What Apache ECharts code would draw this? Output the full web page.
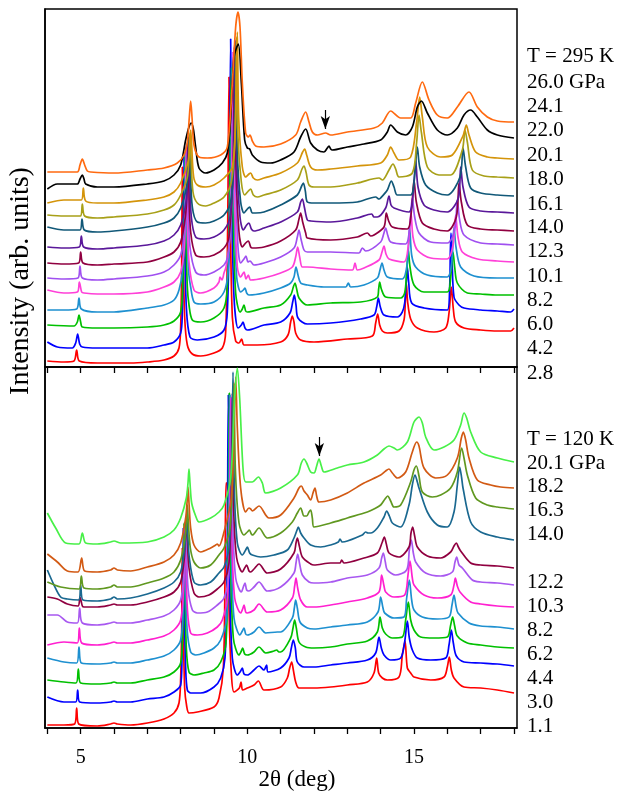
<!DOCTYPE html>
<html>
<head>
<meta charset="utf-8">
<script src="https://cdn.jsdelivr.net/npm/echarts@6/dist/echarts.min.js"></script>
<style>html,body{margin:0;padding:0;background:#fff;}#chart{width:617px;height:791px;}</style>
</head>
<body>
<div id="chart"></div>
<script>
// ---------- DATA (2θ in deg, intensity in arb. units) ----------
// Upper panel, T = 295 K
const top_2_8 = [[4.0,6],[4.5,5],[4.8,6],[4.88,17],[4.96,6],[5.5,4],[6.0,4],[6.5,4],[7.0,5],[7.5,7],[7.8,11],[7.95,19],[8.0,40],[8.03,100],[8.05,200],[8.08,110],[8.12,50],[8.2,22],[8.35,13],[8.6,11],[9.0,14],[9.25,19],[9.35,35],[9.41,140],[9.45,290],[9.49,150],[9.55,50],[9.65,26],[9.75,24],[9.83,28],[9.9,22],[10.3,22],[11.0,25],[11.22,32],[11.3,45],[11.35,51],[11.4,45],[11.45,34],[11.6,27],[12.0,25],[13.0,28],[13.75,31],[13.85,44],[13.91,53],[13.97,42],[14.05,36],[14.2,34],[14.55,36],[14.7,47],[14.74,65],[14.77,84],[14.81,65],[14.9,48],[15.1,39],[15.6,35],[15.95,39],[16.05,54],[16.12,80],[16.18,58],[16.25,45],[16.5,39],[17.0,37],[17.5,36],[17.9,36],[18.0,39]];
const top_4_2 = [[4.0,25],[4.3,20],[4.75,19],[4.85,24],[4.91,33],[4.97,23],[5.05,20],[5.5,19],[6.0,19],[7.0,19],[7.5,22],[7.8,25],[8.0,34],[8.05,55],[8.08,110],[8.1,210],[8.13,120],[8.17,60],[8.28,30],[8.5,27],[9.0,30],[9.3,37],[9.4,55],[9.46,150],[9.5,328],[9.54,160],[9.6,70],[9.72,39],[9.82,42],[9.87,45],[9.93,39],[10.0,37],[10.5,42],[11.0,45],[11.28,54],[11.36,65],[11.41,72],[11.46,62],[11.52,49],[11.8,43],[12.5,44],[13.4,48],[13.8,52],[13.88,60],[13.93,69],[13.99,60],[14.1,52],[14.5,50],[14.65,55],[14.72,64],[14.77,85],[14.8,100],[14.84,85],[14.93,64],[15.3,59],[16.0,57],[16.07,80],[16.09,115],[16.11,134],[16.14,110],[16.2,70],[16.35,62],[16.5,59],[17.0,57],[17.5,56],[17.9,55],[18.0,58]];
const top_6_0 = [[4.0,42],[4.8,41],[4.9,45],[4.95,52],[5.0,45],[5.05,40],[5.5,39],[6.0,39],[7.0,40],[7.5,42],[7.8,46],[8.0,55],[8.06,80],[8.1,130],[8.13,215],[8.16,130],[8.2,80],[8.25,62],[8.35,47],[8.6,45],[9.0,49],[9.3,59],[9.4,80],[9.47,170],[9.52,300],[9.57,160],[9.65,74],[9.78,55],[9.85,58],[9.9,62],[9.95,56],[10.0,55],[10.5,59],[11.0,62],[11.3,72],[11.38,80],[11.43,84],[11.48,78],[11.55,69],[11.8,62],[12.5,64],[13.4,65],[13.9,70],[13.94,78],[13.97,85],[14.02,78],[14.15,70],[14.6,69],[14.72,74],[14.78,95],[14.83,117],[14.88,100],[15.0,82],[15.3,75],[16.0,75],[16.1,90],[16.17,115],[16.22,100],[16.3,84],[16.6,74],[17.0,73],[17.5,72],[18.0,72]];
const top_8_2 = [[4.0,57],[4.5,57],[4.88,58],[4.95,69],[5.02,58],[5.5,55],[6.0,55],[7.0,59],[7.5,62],[7.8,67],[7.95,77],[8.05,95],[8.11,140],[8.15,220],[8.19,140],[8.24,95],[8.3,80],[8.4,65],[8.6,63],[9.0,65],[9.3,75],[9.42,95],[9.5,180],[9.55,310],[9.6,170],[9.68,90],[9.8,75],[9.88,77],[9.93,79],[9.98,74],[10.05,72],[10.5,74],[11.0,79],[11.3,84],[11.4,90],[11.46,100],[11.52,92],[11.6,84],[11.8,82],[12.3,80],[12.95,80],[13.03,84],[13.1,80],[13.5,82],[13.9,89],[13.98,97],[14.04,104],[14.1,97],[14.2,90],[14.65,88],[14.8,104],[14.87,139],[14.93,112],[15.05,100],[15.4,92],[16.0,90],[16.13,104],[16.2,140],[16.26,120],[16.4,100],[16.8,91],[17.5,89],[18.0,89]];
const top_10_1 = [[4.0,77],[4.5,74],[4.9,75],[4.96,85],[5.03,75],[5.1,74],[5.5,73],[6.0,73],[7.0,75],[7.5,80],[7.8,85],[8.0,95],[8.1,115],[8.14,150],[8.17,222],[8.2,150],[8.25,105],[8.4,77],[8.6,74],[9.0,79],[9.15,85],[9.18,90],[9.24,87],[9.3,94],[9.36,100],[9.45,120],[9.53,190],[9.57,315],[9.61,180],[9.7,100],[9.8,90],[9.9,95],[9.96,88],[10.03,92],[10.1,87],[10.5,89],[11.0,94],[11.35,100],[11.45,110],[11.51,120],[11.57,110],[11.65,100],[11.8,100],[12.5,98],[13.15,97],[13.23,104],[13.3,97],[13.5,99],[13.95,107],[14.04,115],[14.1,121],[14.16,113],[14.25,108],[14.7,105],[14.83,122],[14.91,154],[14.97,130],[15.1,117],[15.5,109],[16.0,108],[16.17,122],[16.25,152],[16.32,130],[16.45,115],[16.9,108],[17.5,106],[18.0,105]];
const top_12_3 = [[4.0,89],[4.5,88],[4.92,89],[4.98,101],[5.05,89],[5.5,87],[6.0,88],[7.0,91],[7.5,95],[7.8,102],[8.0,112],[8.12,135],[8.17,160],[8.2,225],[8.23,160],[8.28,120],[8.45,95],[8.7,92],[9.0,95],[9.3,102],[9.4,109],[9.5,140],[9.56,200],[9.6,320],[9.64,200],[9.72,120],[9.8,104],[9.9,108],[9.96,111],[10.02,105],[10.08,106],[10.2,102],[10.5,104],[11.0,110],[11.4,119],[11.5,130],[11.55,137],[11.61,128],[11.7,117],[11.8,115],[12.5,115],[13.35,114],[13.45,119],[13.55,116],[14.0,125],[14.09,133],[14.15,139],[14.21,132],[14.3,125],[14.75,123],[14.87,140],[14.95,169],[15.02,150],[15.15,134],[15.5,125],[16.0,124],[16.22,137],[16.3,167],[16.37,147],[16.5,132],[17.0,124],[17.5,123],[18.0,122]];
const top_14_0 = [[4.0,104],[4.5,103],[4.94,104],[5.0,115],[5.07,104],[5.5,102],[6.0,103],[7.0,105],[7.5,110],[7.8,115],[8.0,125],[8.14,150],[8.19,175],[8.22,228],[8.25,175],[8.3,135],[8.45,112],[8.7,110],[9.0,112],[9.3,119],[9.45,130],[9.57,200],[9.62,322],[9.66,200],[9.75,135],[9.85,120],[9.95,124],[10.03,126],[10.1,120],[10.15,119],[10.5,120],[11.0,126],[11.45,137],[11.55,148],[11.6,154],[11.66,145],[11.75,134],[11.8,129],[12.5,127],[13.3,130],[13.6,134],[13.7,131],[13.8,132],[14.1,140],[14.17,154],[14.24,146],[14.35,140],[14.8,138],[14.92,155],[15.0,187],[15.07,165],[15.25,144],[15.6,138],[16.0,136],[16.27,150],[16.35,184],[16.42,165],[16.6,142],[17.0,138],[17.5,137],[18.0,136]];
const top_16_1 = [[4.0,120],[4.5,119],[4.96,120],[5.02,131],[5.09,120],[5.5,118],[6.0,119],[7.0,122],[7.5,126],[7.8,132],[8.0,142],[8.16,165],[8.21,190],[8.24,230],[8.27,190],[8.32,150],[8.45,130],[8.7,128],[9.0,130],[9.3,137],[9.48,150],[9.59,210],[9.64,327],[9.68,210],[9.78,150],[9.88,137],[9.98,142],[10.05,144],[10.12,138],[10.2,136],[10.5,139],[11.0,145],[11.5,155],[11.6,165],[11.65,168],[11.71,160],[11.8,147],[11.9,146],[12.5,145],[13.3,149],[13.73,153],[13.8,150],[13.9,150],[14.15,159],[14.25,171],[14.31,162],[14.4,159],[14.85,155],[14.98,175],[15.05,207],[15.12,180],[15.3,162],[15.6,157],[16.0,155],[16.33,169],[16.4,200],[16.47,180],[16.65,160],[17.0,156],[17.5,155],[18.0,154]];
const top_18_0 = [[4.0,140],[4.5,137],[4.98,137],[5.04,148],[5.11,137],[5.5,135],[6.0,136],[7.0,140],[7.5,144],[7.8,149],[8.0,159],[8.18,180],[8.23,200],[8.26,232],[8.29,200],[8.35,160],[8.5,145],[8.75,144],[9.0,146],[9.3,152],[9.5,165],[9.61,215],[9.66,325],[9.7,215],[9.8,165],[9.9,154],[10.0,158],[10.07,160],[10.15,154],[10.25,154],[10.5,155],[11.0,162],[11.5,172],[11.63,181],[11.68,184],[11.74,176],[11.8,165],[12.0,164],[12.5,164],[13.3,165],[13.85,170],[13.95,168],[14.0,169],[14.2,177],[14.32,186],[14.4,180],[14.5,172],[14.9,172],[15.02,192],[15.1,220],[15.17,200],[15.35,182],[15.7,174],[16.0,172],[16.38,190],[16.47,219],[16.55,200],[16.7,179],[17.0,174],[17.5,172],[18.0,171]];
const top_20_1 = [[4.0,152],[4.5,151],[4.99,151],[5.05,163],[5.12,151],[5.5,149],[6.0,150],[7.0,153],[7.5,157],[7.8,162],[8.0,172],[8.2,190],[8.25,210],[8.28,234],[8.31,210],[8.37,175],[8.5,164],[8.75,161],[9.0,164],[9.3,170],[9.52,185],[9.63,230],[9.68,330],[9.72,230],[9.82,185],[9.92,172],[10.03,176],[10.1,178],[10.18,172],[10.3,170],[10.5,172],[11.0,177],[11.5,187],[11.64,198],[11.7,201],[11.76,195],[11.85,182],[12.0,180],[12.5,180],[13.3,184],[13.95,189],[14.05,187],[14.25,197],[14.37,203],[14.45,198],[14.55,190],[14.95,194],[15.08,225],[15.15,252],[15.22,235],[15.4,200],[15.75,192],[16.1,192],[16.45,217],[16.53,237],[16.6,225],[16.75,197],[17.1,191],[17.5,190],[18.0,189]];
const top_22_0 = [[4.0,164],[4.5,167],[5.02,167],[5.08,179],[5.15,166],[5.5,164],[6.0,164],[7.0,167],[7.5,170],[7.8,175],[8.0,184],[8.22,205],[8.27,222],[8.3,237],[8.33,222],[8.39,190],[8.5,182],[8.75,180],[9.0,182],[9.3,189],[9.55,200],[9.65,250],[9.7,335],[9.74,250],[9.85,200],[9.95,190],[10.05,193],[10.1,194],[10.18,189],[10.3,187],[10.5,189],[11.0,194],[11.5,204],[11.66,215],[11.72,218],[11.78,212],[11.9,200],[12.1,197],[12.5,198],[13.3,201],[14.0,204],[14.2,212],[14.3,220],[14.4,214],[14.55,207],[14.9,210],[15.08,245],[15.17,270],[15.25,250],[15.4,220],[15.8,210],[16.15,212],[16.48,232],[16.57,242],[16.65,232],[16.85,215],[17.2,210],[17.5,209],[18.0,208]];
const top_24_1 = [[4.0,178],[4.3,183],[4.9,183],[4.98,188],[5.05,192],[5.1,188],[5.15,183],[5.5,180],[6.0,180],[7.0,183],[7.5,186],[7.8,192],[8.0,202],[8.15,227],[8.25,240],[8.32,244],[8.38,238],[8.45,220],[8.55,199],[8.75,194],[9.0,197],[9.25,204],[9.4,214],[9.5,250],[9.6,310],[9.73,323],[9.82,284],[9.92,227],[10.0,219],[10.07,218],[10.15,212],[10.4,205],[10.7,204],[11.0,207],[11.4,215],[11.6,230],[11.75,238],[11.9,224],[12.1,217],[12.3,215],[12.4,219],[12.45,221],[12.5,218],[12.55,217],[13.0,220],[13.5,223],[14.0,227],[14.2,235],[14.3,242],[14.5,235],[14.75,232],[14.95,240],[15.1,260],[15.22,266],[15.4,254],[15.7,237],[16.0,232],[16.3,239],[16.5,252],[16.7,257],[16.9,250],[17.2,237],[17.5,232],[18.0,229]];
const top_26_0 = [[4.0,195],[4.9,195],[4.98,202],[5.05,208],[5.12,202],[5.2,196],[5.3,195],[6.0,194],[7.0,197],[7.5,199],[7.9,204],[8.1,212],[8.2,225],[8.26,250],[8.3,266],[8.34,250],[8.4,222],[8.55,210],[8.8,209],[9.2,212],[9.4,220],[9.55,284],[9.65,340],[9.72,355],[9.78,340],[9.85,284],[9.95,234],[10.03,230],[10.08,232],[10.15,226],[10.25,221],[10.5,220],[11.0,223],[11.45,232],[11.6,245],[11.75,255],[11.85,245],[11.95,235],[12.1,232],[12.35,234],[12.5,232],[13.0,235],[13.8,239],[14.05,244],[14.3,256],[14.6,249],[14.9,249],[15.05,264],[15.25,285],[15.45,267],[15.7,252],[16.0,249],[16.3,260],[16.65,275],[16.9,260],[17.2,250],[17.5,246],[18.0,245]];

// Lower panel, T = 120 K
const low_1_1 = [[4.0,3],[4.5,3],[4.82,4],[4.88,20],[4.94,4],[5.5,2],[5.9,4],[6.0,5],[6.1,4],[6.5,3],[7.0,5],[7.5,9],[7.8,15],[7.95,25],[8.0,50],[8.03,100],[8.05,180],[8.08,100],[8.12,40],[8.18,22],[8.25,15],[8.5,16],[9.0,21],[9.15,30],[9.28,60],[9.33,150],[9.36,245],[9.4,245],[9.45,120],[9.52,55],[9.6,36],[9.76,40],[9.81,46],[9.86,38],[10.0,40],[10.2,43],[10.33,47],[10.5,38],[11.0,41],[11.2,50],[11.27,60],[11.33,66],[11.38,58],[11.45,46],[11.55,40],[12.0,40],[12.5,41],[13.0,43],[13.6,46],[13.8,55],[13.88,70],[13.94,55],[14.05,50],[14.2,48],[14.55,51],[14.65,73],[14.73,87],[14.8,60],[14.9,55],[15.0,51],[15.5,48],[15.9,51],[16.0,61],[16.06,71],[16.12,58],[16.2,50],[16.5,41],[17.0,40],[17.5,38],[18.0,35]];
const low_3_0 = [[4.0,31],[4.5,26],[4.85,26],[4.91,38],[4.97,26],[5.5,25],[5.9,26],[6.0,27],[6.1,26],[6.5,26],[7.0,29],[7.5,31],[7.8,36],[8.0,43],[8.04,70],[8.06,120],[8.08,200],[8.11,120],[8.15,60],[8.2,38],[8.3,35],[8.6,35],[9.0,41],[9.2,50],[9.33,70],[9.39,150],[9.43,333],[9.47,150],[9.55,70],[9.7,53],[9.8,57],[9.85,60],[9.9,54],[10.0,53],[10.2,58],[10.35,62],[10.5,58],[10.55,61],[10.58,63],[10.62,56],[11.0,60],[11.25,70],[11.32,80],[11.38,88],[11.44,80],[11.5,66],[11.7,61],[12.0,61],[12.5,63],[13.0,65],[13.6,68],[13.85,75],[13.95,91],[14.02,80],[14.1,73],[14.3,68],[14.6,70],[14.72,86],[14.8,107],[14.86,90],[14.95,78],[15.1,70],[15.5,68],[15.95,70],[16.05,83],[16.12,98],[16.18,85],[16.27,72],[16.5,66],[17.0,65],[17.5,64],[18.0,62]];
const low_4_4 = [[4.0,48],[4.5,46],[4.86,45],[4.93,59],[5.0,45],[5.5,44],[5.9,45],[6.0,46],[6.1,45],[6.5,45],[7.0,48],[7.5,51],[7.8,56],[8.0,65],[8.06,95],[8.08,140],[8.1,205],[8.13,140],[8.17,80],[8.25,56],[8.4,53],[8.7,55],[9.0,58],[9.2,66],[9.36,85],[9.42,180],[9.46,335],[9.5,170],[9.58,90],[9.75,73],[9.82,77],[9.86,80],[9.92,74],[10.0,73],[10.2,76],[10.35,81],[10.55,75],[10.8,77],[10.88,78],[10.95,76],[11.0,76],[11.3,90],[11.37,100],[11.42,108],[11.47,100],[11.55,86],[11.75,81],[12.0,80],[12.5,81],[13.0,84],[13.6,87],[13.9,96],[13.98,111],[14.05,100],[14.15,94],[14.35,90],[14.65,91],[14.75,108],[14.83,126],[14.9,108],[15.0,98],[15.2,91],[15.6,90],[16.0,91],[16.1,103],[16.16,111],[16.22,102],[16.3,92],[16.6,85],[17.0,83],[17.5,81],[18.0,80]];
const low_6_2 = [[4.0,70],[4.5,66],[4.88,65],[4.95,81],[5.02,65],[5.5,64],[5.9,65],[6.0,66],[6.1,65],[6.5,65],[7.0,68],[7.5,72],[7.8,78],[8.0,88],[8.07,115],[8.1,150],[8.12,205],[8.15,150],[8.19,100],[8.3,76],[8.45,73],[8.7,75],[9.0,80],[9.2,88],[9.38,110],[9.44,190],[9.48,333],[9.52,180],[9.6,110],[9.78,93],[9.85,97],[9.9,100],[9.95,94],[10.0,93],[10.2,96],[10.35,101],[10.55,95],[10.9,96],[11.0,96],[11.35,110],[11.41,120],[11.45,128],[11.5,120],[11.58,106],[11.8,100],[12.0,99],[12.5,101],[13.0,103],[13.6,106],[13.92,116],[14.0,131],[14.07,120],[14.12,115],[14.4,110],[14.7,111],[14.78,130],[14.86,148],[14.93,128],[15.0,118],[15.25,111],[15.7,109],[16.05,111],[16.14,123],[16.2,133],[16.26,122],[16.32,115],[16.65,105],[17.0,102],[17.5,101],[18.0,99]];
const low_8_2 = [[4.0,83],[4.5,86],[4.9,85],[4.96,100],[5.03,85],[5.5,83],[5.9,85],[6.0,86],[6.1,85],[6.5,85],[7.0,88],[7.5,92],[7.8,98],[8.0,108],[8.08,135],[8.11,165],[8.13,205],[8.16,165],[8.2,120],[8.3,95],[8.5,93],[8.8,95],[9.1,101],[9.25,108],[9.4,130],[9.46,200],[9.5,330],[9.54,190],[9.62,130],[9.8,115],[9.86,119],[9.9,123],[9.95,116],[10.0,115],[10.2,118],[10.35,124],[10.6,116],[11.0,118],[11.35,130],[11.42,142],[11.46,150],[11.51,140],[11.6,128],[11.8,121],[12.0,121],[12.5,123],[13.0,126],[13.6,130],[13.95,136],[14.03,153],[14.1,142],[14.15,136],[14.4,131],[14.72,133],[14.82,153],[14.88,167],[14.95,150],[15.0,143],[15.3,133],[15.7,130],[16.1,133],[16.2,143],[16.24,150],[16.3,142],[16.38,136],[16.7,126],[17.0,124],[17.5,122],[18.0,121]];
const low_10_3 = [[4.0,113],[4.3,113],[4.6,106],[4.9,105],[4.97,120],[5.05,105],[5.5,103],[5.9,105],[6.0,106],[6.1,105],[6.5,105],[7.0,108],[7.5,112],[7.8,118],[8.0,128],[8.1,155],[8.13,180],[8.15,210],[8.18,180],[8.22,140],[8.35,118],[8.5,115],[8.8,116],[9.1,123],[9.3,130],[9.43,150],[9.48,210],[9.52,331],[9.56,210],[9.65,150],[9.82,136],[9.88,141],[9.93,145],[9.98,138],[10.05,137],[10.2,141],[10.35,146],[10.6,137],[11.0,141],[11.4,155],[11.46,165],[11.51,174],[11.57,164],[11.65,153],[11.85,146],[12.0,145],[12.5,146],[13.0,150],[13.6,153],[13.95,160],[14.03,170],[14.08,175],[14.14,166],[14.2,158],[14.45,153],[14.78,158],[14.86,178],[14.92,188],[14.98,175],[15.05,166],[15.35,155],[15.8,152],[16.15,156],[16.23,166],[16.28,171],[16.35,163],[16.45,160],[16.75,148],[17.0,146],[17.5,145],[18.0,143]];
const low_12_2 = [[4.0,131],[4.3,129],[4.6,124],[4.92,122],[4.98,131],[5.05,122],[5.1,121],[5.5,121],[5.9,123],[6.0,124],[6.1,123],[6.5,123],[7.0,126],[7.5,131],[7.8,136],[8.0,146],[8.11,170],[8.14,190],[8.17,210],[8.2,190],[8.25,160],[8.4,135],[8.55,131],[8.85,133],[9.1,139],[9.3,146],[9.45,165],[9.51,220],[9.55,335],[9.59,220],[9.68,170],[9.85,156],[9.92,160],[9.98,163],[10.05,157],[10.1,156],[10.2,159],[10.35,164],[10.6,155],[11.0,159],[11.4,175],[11.46,185],[11.5,190],[11.56,182],[11.65,171],[11.9,164],[12.0,163],[12.5,165],[12.78,165],[12.83,168],[12.9,165],[13.5,170],[13.9,175],[14.05,186],[14.11,191],[14.17,184],[14.25,175],[14.55,171],[14.85,181],[14.91,195],[14.96,201],[15.02,192],[15.1,181],[15.4,172],[15.8,170],[16.1,176],[16.2,182],[16.27,185],[16.33,181],[16.4,177],[16.7,165],[17.0,163],[17.5,162],[18.0,160]];
const low_14_0 = [[4.0,158],[4.2,143],[4.4,131],[4.6,129],[4.94,128],[5.0,143],[5.07,128],[5.5,127],[5.9,129],[6.0,131],[6.1,129],[6.5,130],[7.0,134],[7.5,140],[7.8,146],[8.0,156],[8.12,180],[8.15,195],[8.18,212],[8.21,195],[8.26,170],[8.4,146],[8.6,143],[8.9,146],[9.15,155],[9.3,161],[9.45,180],[9.53,240],[9.57,356],[9.61,240],[9.7,185],[9.85,173],[9.95,178],[10.0,181],[10.07,175],[10.15,173],[10.4,171],[10.8,173],[11.2,178],[11.4,190],[11.48,197],[11.53,201],[11.6,195],[11.7,190],[11.9,183],[12.2,181],[12.5,183],[12.73,186],[12.78,189],[12.85,186],[13.0,187],[13.45,193],[13.55,196],[13.62,195],[13.7,195],[13.9,200],[14.1,211],[14.18,217],[14.26,212],[14.35,205],[14.6,201],[14.85,223],[14.95,243],[15.03,253],[15.1,246],[15.15,240],[15.4,216],[15.7,203],[16.0,201],[16.2,216],[16.3,243],[16.37,261],[16.43,250],[16.47,240],[16.7,206],[17.0,196],[17.5,191],[18.0,188]];
const low_16_3 = [[4.0,146],[4.4,141],[4.95,139],[5.02,152],[5.1,140],[5.5,139],[5.9,141],[6.0,143],[6.1,141],[6.5,141],[7.0,145],[7.5,150],[7.8,156],[8.0,168],[8.13,190],[8.17,205],[8.2,223],[8.23,205],[8.29,180],[8.4,166],[8.6,160],[8.9,163],[9.15,173],[9.3,180],[9.48,200],[9.56,260],[9.6,345],[9.64,260],[9.75,205],[9.9,193],[10.0,196],[10.06,198],[10.12,194],[10.15,193],[10.35,200],[10.6,190],[11.0,195],[11.35,206],[11.5,215],[11.6,220],[11.7,212],[11.78,212],[11.85,216],[11.9,218],[11.95,210],[12.0,201],[12.5,205],[13.0,210],[13.6,216],[13.8,219],[14.0,223],[14.13,229],[14.21,232],[14.3,227],[14.4,221],[14.6,223],[14.9,246],[15.0,258],[15.07,262],[15.15,252],[15.25,236],[15.55,231],[15.8,233],[16.1,240],[16.3,256],[16.43,280],[16.5,270],[16.6,253],[16.85,230],[17.2,223],[17.5,221],[18.0,219]];
const low_18_2 = [[4.0,174],[4.3,166],[4.6,157],[4.92,156],[5.03,170],[5.12,157],[5.5,156],[5.9,158],[6.0,160],[6.1,158],[6.5,157],[7.0,161],[7.5,166],[7.8,173],[8.0,185],[8.15,210],[8.19,225],[8.22,241],[8.25,225],[8.3,200],[8.4,183],[8.6,176],[8.9,180],[9.05,183],[9.1,184],[9.15,182],[9.3,196],[9.52,230],[9.6,300],[9.65,351],[9.7,300],[9.8,240],[9.95,216],[10.05,220],[10.1,219],[10.15,217],[10.35,222],[10.65,210],[11.0,213],[11.4,230],[11.55,240],[11.62,242],[11.7,237],[11.8,233],[11.9,228],[11.97,235],[12.03,240],[12.08,232],[12.15,226],[12.5,228],[13.0,235],[13.5,245],[14.0,253],[14.15,257],[14.25,259],[14.35,255],[14.5,250],[14.75,256],[14.95,276],[15.08,286],[15.15,282],[15.3,260],[15.65,250],[16.0,253],[16.3,270],[16.42,290],[16.48,296],[16.55,288],[16.65,270],[16.9,248],[17.3,243],[17.6,241],[18.0,240]];
const low_20_1 = [[4.0,215],[4.25,200],[4.55,185],[4.95,184],[5.05,195],[5.15,185],[5.5,184],[5.9,186],[6.0,187],[6.2,185],[7.0,186],[7.5,191],[7.8,198],[8.0,210],[8.17,230],[8.22,245],[8.25,259],[8.28,245],[8.33,225],[8.45,212],[8.55,206],[8.9,210],[9.15,216],[9.3,223],[9.5,250],[9.62,330],[9.7,360],[9.77,330],[9.87,260],[9.95,246],[10.15,246],[10.33,251],[10.45,245],[10.55,235],[11.0,240],[11.5,253],[11.62,265],[11.7,269],[11.78,265],[11.9,256],[12.0,255],[12.08,262],[12.15,269],[12.22,262],[12.3,256],[12.7,260],[13.0,263],[13.5,266],[13.9,273],[14.1,279],[14.25,282],[14.4,280],[14.5,278],[14.8,286],[15.0,306],[15.15,311],[15.25,305],[15.35,291],[15.6,278],[15.9,281],[16.2,288],[16.4,303],[16.5,315],[16.58,310],[16.7,296],[17.0,276],[17.5,270],[18.0,266]];

// Pressure labels (GPa), top to bottom
const topPressures = ['26.0 GPa','24.1','22.0','20.1','18.0','16.1','14.0','12.3','10.1','8.2','6.0','4.2','2.8'];
const lowPressures = ['20.1 GPa','18.2','16.3','14.0','12.2','10.3','8.2','6.2','4.4','3.0','1.1'];
const tickValues = [4,5,6,7,8,9,10,11,12,13,14,15,16,17,18];
const labelValues = [5,10,15];
// arrows marking new reflections: [2θ, start intensity, end intensity]
const topArrow = [12.34, 257, 238];
const lowArrow = [12.16, 291, 272];

// ---------- CHART ----------
const FONT = '"Liberation Serif", "Times New Roman", serif';
const topCurves = [
  [top_2_8,'#ff0000'],[top_4_2,'#0000ff'],[top_6_0,'#00c000'],[top_8_2,'#1e90d0'],
  [top_10_1,'#ff40d8'],[top_12_3,'#a050f0'],[top_14_0,'#900040'],[top_16_1,'#5a189a'],
  [top_18_0,'#115878'],[top_20_1,'#a8a018'],[top_22_0,'#d4940a'],[top_24_1,'#000000'],
  [top_26_0,'#ff6a10']
];
const lowCurves = [
  [low_1_1,'#ff0000'],[low_3_0,'#0000ff'],[low_4_4,'#00c000'],[low_6_2,'#1e90d0'],
  [low_8_2,'#ff20d0'],[low_10_3,'#a858f0'],[low_12_2,'#900040'],[low_14_0,'#1a6890'],
  [low_16_3,'#609820'],[low_18_2,'#d25a14'],[low_20_1,'#48f048']
];

function arrowMark(a){
  return {
    silent: true, animation: false,
    symbol: ['none','arrow'], symbolSize: [7, 13],
    label: {show: false},
    lineStyle: {color: '#000', width: 1.2, type: 'solid'},
    emphasis: {disabled: true},
    data: [[{coord: [a[0], a[1]]}, {coord: [a[0], a[2]]}]]
  };
}

const series = [];
function addCurves(list, axisIdx, arrow){
  list.forEach((c, i) => {
    const s = {type:'line', xAxisIndex:axisIdx, yAxisIndex:axisIdx, data:c[0], symbol:'none', showSymbol:false,
      smooth:0.3, lineStyle:{color:c[1], width:1.7}, itemStyle:{color:c[1]}, animation:false, silent:true};
    if (i === list.length - 1) s.markLine = arrowMark(arrow);
    series.push(s);
  });
}
addCurves(topCurves, 0, topArrow);
addCurves(lowCurves, 1, lowArrow);

function xAx(gi, showLabels){
  return {
    type:'value', gridIndex:gi, min:3.93, max:18.09,
    axisLine:{show:true, onZero:false, lineStyle:{color:'#000', width:1.5}},
    axisTick:{show:true, inside:false, length:6, customValues:tickValues, lineStyle:{color:'#000', width:1.3}},
    axisLabel:{show:showLabels, customValues:labelValues, color:'#000', fontFamily:FONT, fontSize:20, margin:20},
    splitLine:{show:false}
  };
}
function yAx(gi, max){
  return {type:'value', gridIndex:gi, min:0, max:max, show:true,
    axisLine:{show:true, lineStyle:{color:'#000', width:1.5}},
    axisTick:{show:false}, axisLabel:{show:false}, splitLine:{show:false}};
}

const graphics = [];
const rightX = 527;
const topLabelY = [82.7,106.7,130.7,155,179,204,227.7,251.7,276,300,324,348.3,373.3];
const lowLabelY = [463,486.7,510,534,582.7,606.7,630,654.3,678.3,702.3,726.7];
function addText(t, x, y, size){
  graphics.push({type:'text', x:x, y:y, silent:true,
    style:{text:t, fill:'#000', fontFamily:FONT, fontSize:size, align:'left', verticalAlign:'middle'}});
}
addText('T = 295 K', rightX, 56, 21);
topPressures.forEach((t,i)=>addText(t, rightX, topLabelY[i], 21));
addText('T = 120 K', rightX, 439, 21);
lowPressures.forEach((t,i)=>addText(t, rightX, lowLabelY[i], 21));
graphics.push({type:'text', x:297, y:780, silent:true,
  style:{text:'2θ (deg)', fill:'#000', fontFamily:FONT, fontSize:23, align:'center', verticalAlign:'middle'}});
graphics.push({type:'text', x:21, y:281, rotation:Math.PI/2, silent:true,
  style:{text:'Intensity (arb. units)', fill:'#000', fontFamily:FONT, fontSize:28, align:'center', verticalAlign:'middle'}});

const chart = echarts.init(document.getElementById('chart'), null, {renderer:'canvas'});
chart.setOption({
  backgroundColor:'#fff',
  animation:false,
  grid:[
    {left:45, top:9, width:472, height:358, show:true, borderColor:'#000', borderWidth:1.5, backgroundColor:'transparent'},
    {left:45, top:367, width:472, height:361, show:true, borderColor:'#000', borderWidth:1.5, backgroundColor:'transparent'}
  ],
  xAxis:[xAx(0,false), xAx(1,true)],
  yAxis:[yAx(0,358), yAx(1,361)],
  series:series,
  graphic:graphics
});
</script>
</body>
</html>
